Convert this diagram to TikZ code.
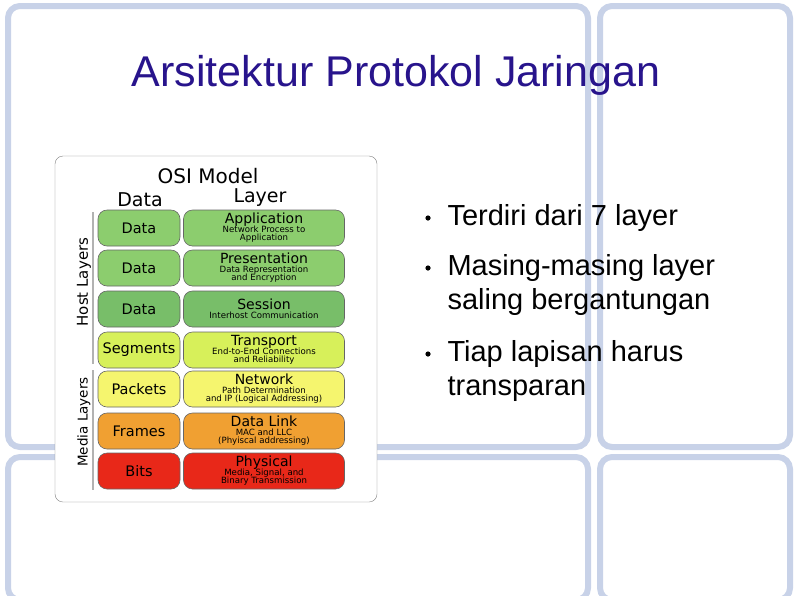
\documentclass[tikz,border=0pt]{standalone}
\usepackage{fontspec}
\setmainfont{Liberation Sans}
\setsansfont{DejaVu Sans}
\newcommand\mysub{\sffamily\fontsize{8.6}{9}\selectfont}
\begin{document}
\begin{tikzpicture}[x=1pt,y=-1pt,
 pane/.style={draw={rgb,255:red,200;green,210;blue,232}, line width=6pt, rounded corners=12pt},
 lay/.style={draw=black!60, line width=0.6pt, rounded corners=9pt, minimum height=36pt, align=center, inner sep=0pt},
 dat/.style={lay, minimum width=82pt, font=\sffamily\fontsize{14.5}{15}\selectfont},
 lyr/.style={lay, minimum width=161pt, font=\sffamily\fontsize{14}{11}\selectfont},
 bul/.style={anchor=west, font=\fontsize{29}{34}\selectfont, align=left}]
\useasboundingbox (0,0) rectangle (794,595);
\fill[white] (0,0) rectangle (794,595);
\draw[pane] (8,6) rectangle (588,447);
\draw[pane] (600,6) rectangle (790,447);
\draw[pane] (8,457) rectangle (588,600);
\draw[pane] (600,457) rectangle (790,600);
\node[font=\fontsize{43}{46}\selectfont, text={rgb,255:red,40;green,20;blue,140}] (title) at (396,75) {Arsitektur Protokol Jaringan};
% OSI panel
\node[draw=black!50, fill=white, rounded corners=8pt, minimum width=322pt, minimum height=346pt] (frame) at (216,329) {};
\node[font=\sffamily\fontsize{20}{21}\selectfont] (osi) at (208,176) {OSI Model};
\node[font=\sffamily\fontsize{19}{20}\selectfont] (hd) at (140,200) {Data};
\node[font=\sffamily\fontsize{19}{20}\selectfont] (hl) at (260,198) {Layer};
\draw[gray!60, line width=1.5pt] (93,212) -- (93,364);
\draw[gray!60, line width=1.5pt] (93,370) -- (93,490);
\node[rotate=90, font=\sffamily\fontsize{15}{16}\selectfont] (host) at (84,282) {Host Layers};
\node[rotate=90, font=\sffamily\fontsize{13.5}{14}\selectfont] (media) at (84,422) {Media Layers};
\definecolor{g1}{RGB}{140,205,110}
\definecolor{g2}{RGB}{120,190,105}
\definecolor{tr}{RGB}{215,240,90}
\definecolor{nw}{RGB}{245,245,110}
\definecolor{dl}{RGB}{240,160,50}
\definecolor{ph}{RGB}{232,40,25}
\foreach \y/\c/\d/\n in {228/g1/Data/a,268/g1/Data/b,309/g2/Data/c,350/tr/Segments/d,389/nw/Packets/e,431/dl/Frames/f,471/ph/Bits/g}
  \node[dat, fill=\c] (d\n) at (139,\y) {\d};
\node[lyr, fill=g1] (la) at (264,228) {Application\\[-2pt]{\mysub Network Process to}\\[-3pt]{\mysub Application}};
\node[lyr, fill=g1] (lb) at (264,268) {Presentation\\[-2pt]{\mysub Data Representation}\\[-3pt]{\mysub and Encryption}};
\node[lyr, fill=g2] (lc) at (264,309) {Session\\[-2pt]{\mysub Interhost Communication}};
\node[lyr, fill=tr] (ld) at (264,350) {Transport\\[-2pt]{\mysub End-to-End Connections}\\[-3pt]{\mysub and Reliability}};
\node[lyr, fill=nw] (le) at (264,389) {Network\\[-2pt]{\mysub Path Determination}\\[-3pt]{\mysub and IP (Logical Addressing)}};
\node[lyr, fill=dl] (lf) at (264,431) {Data Link\\[-2pt]{\mysub MAC and LLC}\\[-3pt]{\mysub (Phyiscal addressing)}};
\node[lyr, fill=ph] (lg) at (264,471) {Physical\\[-2pt]{\mysub Media, Signal, and}\\[-3pt]{\mysub Binary Transmission}};
% bullets
\foreach \y/\n in {218/1,268/2,354/3} \fill (428,\y) circle (2.6pt);
\node[bul] (b1) at (444,218) {Terdiri dari 7 layer};
\node[bul] (b2) at (444,285) {Masing-masing layer\\saling bergantungan};
\node[bul] (b3) at (444,371) {Tiap lapisan harus\\transparan};
\end{tikzpicture}
\end{document}
